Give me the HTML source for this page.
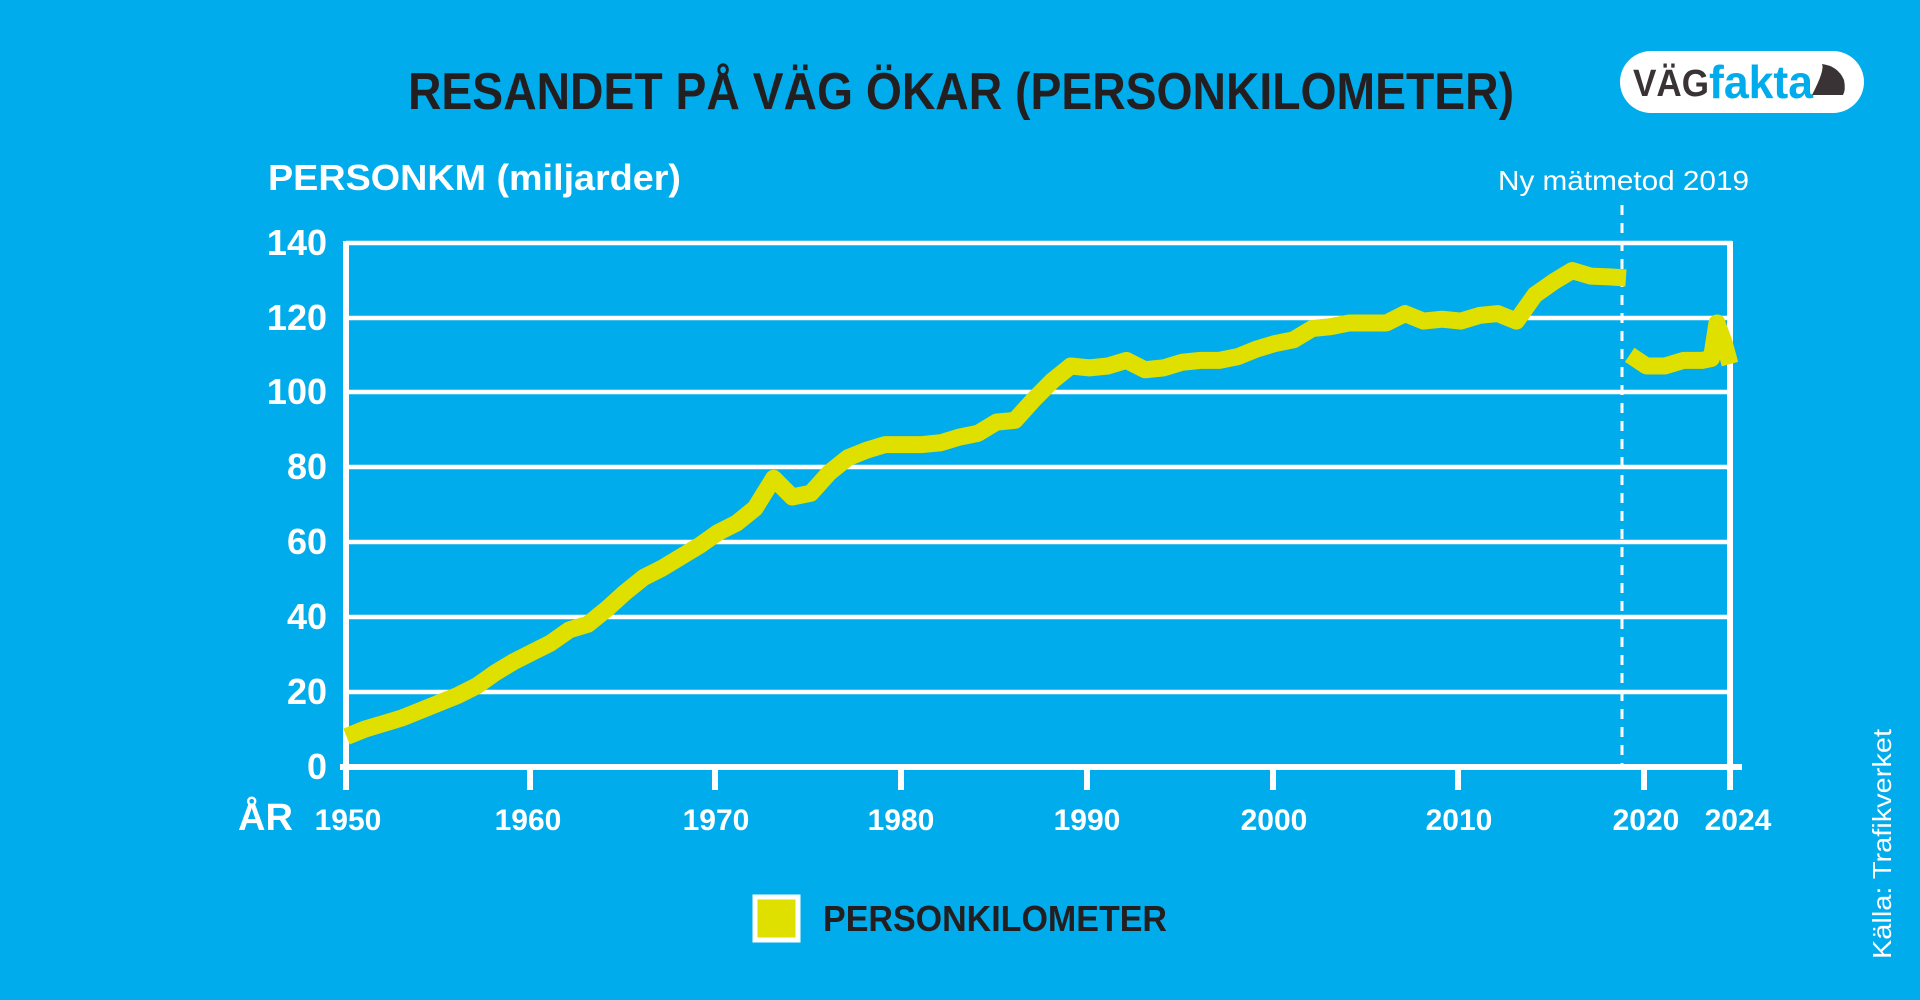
<!DOCTYPE html>
<html><head><meta charset="utf-8"><style>
html,body{margin:0;padding:0;background:#00aceb;}
svg{display:block}
text{font-family:"Liberation Sans Narrow","Liberation Sans",sans-serif;font-weight:bold}
</style></head><body>
<svg width="1920" height="1000" viewBox="0 0 1920 1000" xmlns="http://www.w3.org/2000/svg">
<rect width="1920" height="1000" fill="#00aceb"/>
<text x="408" y="109" font-size="52" fill="#231f20" textLength="1106" lengthAdjust="spacingAndGlyphs">RESANDET PÅ VÄG ÖKAR (PERSONKILOMETER)</text>
<rect x="1620" y="51" width="244" height="62" rx="31" fill="#fff"/>
<text x="1633" y="96" font-size="38" fill="#3a3336" textLength="76" lengthAdjust="spacingAndGlyphs">VÄG</text>
<text x="1709" y="98" font-size="46" fill="#00aceb" textLength="104" lengthAdjust="spacingAndGlyphs">fakta</text>
<path d="M1812 95 Q1825 70 1822 64 Q1838 66 1844 80 Q1846 90 1843 95 Z" fill="#3a3336"/>
<text x="268" y="190" font-size="36" fill="#fff" textLength="413" lengthAdjust="spacingAndGlyphs">PERSONKM (miljarder)</text>
<text x="1498" y="190" font-size="28" fill="#fff" style="font-weight:normal" textLength="251" lengthAdjust="spacingAndGlyphs">Ny mätmetod 2019</text>
<g stroke="#fff" stroke-width="4.5">
<line x1="346" y1="243" x2="1732" y2="243"/>
<line x1="346" y1="318" x2="1730" y2="318"/>
<line x1="346" y1="392" x2="1730" y2="392"/>
<line x1="346" y1="467" x2="1730" y2="467"/>
<line x1="346" y1="542" x2="1730" y2="542"/>
<line x1="346" y1="617" x2="1730" y2="617"/>
<line x1="346" y1="692" x2="1730" y2="692"/>
</g>
<g stroke="#fff" stroke-width="6">
<line x1="346" y1="241" x2="346" y2="790"/>
<line x1="1730" y1="241" x2="1730" y2="790"/>
<line x1="340" y1="767" x2="1742" y2="767"/>
<line x1="530" y1="767" x2="530" y2="790"/>
<line x1="715" y1="767" x2="715" y2="790"/>
<line x1="901" y1="767" x2="901" y2="790"/>
<line x1="1087" y1="767" x2="1087" y2="790"/>
<line x1="1273" y1="767" x2="1273" y2="790"/>
<line x1="1458" y1="767" x2="1458" y2="790"/>
<line x1="1644" y1="767" x2="1644" y2="790"/>
</g>
<line x1="1622" y1="205" x2="1622" y2="767" stroke="#fff" stroke-width="3" stroke-dasharray="10,8"/>
<g font-size="36" fill="#fff" text-anchor="end">
<text x="327" y="255">140</text><text x="327" y="330">120</text><text x="327" y="404">100</text>
<text x="327" y="479">80</text><text x="327" y="554">60</text><text x="327" y="629">40</text>
<text x="327" y="704">20</text><text x="327" y="779">0</text>
</g>
<g font-size="30" fill="#fff" text-anchor="middle">
<text x="348" y="830">1950</text><text x="528" y="830">1960</text><text x="716" y="830">1970</text>
<text x="901" y="830">1980</text><text x="1087" y="830">1990</text><text x="1274" y="830">2000</text>
<text x="1459" y="830">2010</text><text x="1646" y="830">2020</text><text x="1738" y="830">2024</text>
</g>
<text x="238" y="830" font-size="38" fill="#fff">ÅR</text>
<g transform="translate(346.5,766.5) scale(18.57,-3.743)" fill="none" stroke="#dfdf00" stroke-width="17" stroke-linejoin="round">
<polyline vector-effect="non-scaling-stroke" points="0,8 1,10 2,11.5 3,13 4,15 5,17 6,19 7,21.5 8,25 9,28 10,30.5 11,33 12,36.5 13,38 14,42 15,46.5 16,50.5 17,53 18,56 19,59 20,62.5 21,65 22,69 23,77 24,72 25,73 26,78.5 27,82.5 28,84.5 29,86 30,86 31,86 32,86.5 33,88 34,89 35,92 36,92.5 37,98 38,103 39,107 40,106.5 41,107 42,108.5 43,106 44,106.5 45,108 46,108.5 47,108.5 48,109.5 49,111.5 50,113 51,114 52,117 53,117.5 54,118.5 55,118.5 56,118.5 57,121 58,119 59,119.5 60,119 61,120.5 62,121 63,119 64,126 65,129.5 66,132.5 67,131 68,130.8 68.9,130.5"/>
<polyline vector-effect="non-scaling-stroke" points="69.1,110 70,107 71,107 72,108.5 73,108.5 73.5,109 73.8,118.5 74.2,113 74.5,107.5"/>
</g>
<rect x="755" y="897" width="43" height="43" fill="#dfdf00" stroke="#fff" stroke-width="5"/>
<text x="823" y="931" font-size="36" fill="#231f20" textLength="344" lengthAdjust="spacingAndGlyphs">PERSONKILOMETER</text>
<text transform="translate(1891,959) rotate(-90)" font-size="26" fill="#fff" style="font-weight:normal;font-family:'Liberation Sans',sans-serif" textLength="230" lengthAdjust="spacingAndGlyphs">Källa: Trafikverket</text>
</svg>
</body></html>
